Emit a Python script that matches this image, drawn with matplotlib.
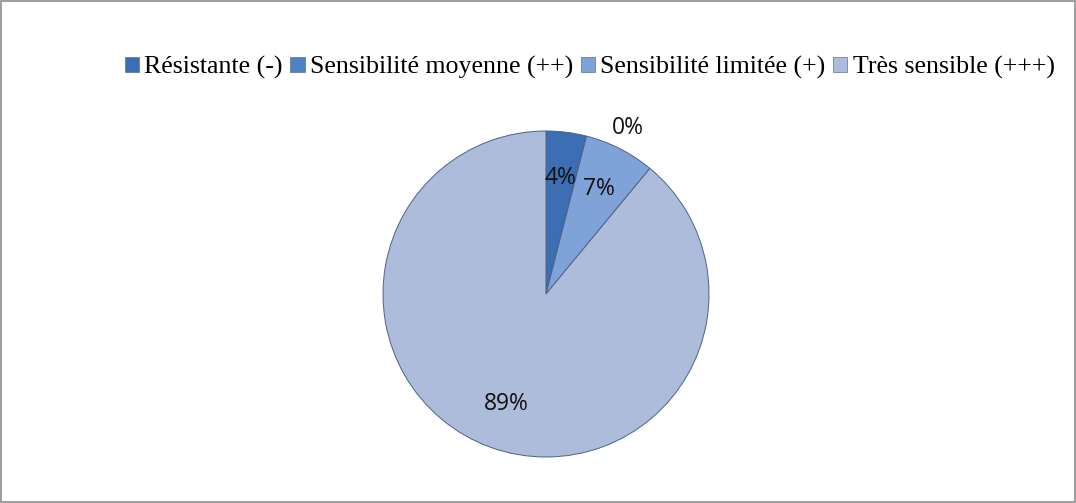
import matplotlib.pyplot as plt
from matplotlib.patches import Patch

# Data
categories = ['Résistante (-)', 'Sensibilité moyenne (++)', 'Sensibilité limitée (+)', 'Très sensible (+++)']
values = [4, 0, 7, 89]
colors = ['#3b6eb2', '#4f82c4', '#7fa3d8', '#adbcdb']

fig = plt.figure(figsize=(10.76, 5.03), dpi=100)

# outer frame of the chart area
fig.patches.append(plt.Rectangle((0.001, 0.002), 0.998, 0.996, transform=fig.transFigure,
                                 fill=False, edgecolor='#8c8c8c', linewidth=1.2))

cx, cy, r = 546, 294, 163
W, H = 1076, 503
ax = fig.add_axes([(cx - r) / W, (H - cy - r) / H, 2 * r / W, 2 * r / H])

wedges, texts, autotexts = ax.pie(values, colors=colors, startangle=90, counterclock=False,
                                  autopct='%1.0f%%', pctdistance=0.72,
                                  wedgeprops=dict(edgecolor='#4d6285', linewidth=0.7),
                                  textprops=dict(fontsize=16.5, family='Open Sans', color='#111111'))
ax.set_xlim(-1, 1)
ax.set_ylim(-1, 1)

# the 0% label sits outside the pie
autotexts[1].set_position((0.5, 1.02))

legend_handles = [Patch(facecolor=c, edgecolor='#5a6f90', linewidth=0.5) for c in colors]
fig.legend(legend_handles, categories, loc='center', bbox_to_anchor=(0.548, 0.866), ncol=4,
           frameon=False, handlelength=0.55, handleheight=0.55, handletextpad=0.2,
           columnspacing=0.3, prop=dict(family='Liberation Serif', size=18.6))

fig.savefig('out.png', dpi=100)
